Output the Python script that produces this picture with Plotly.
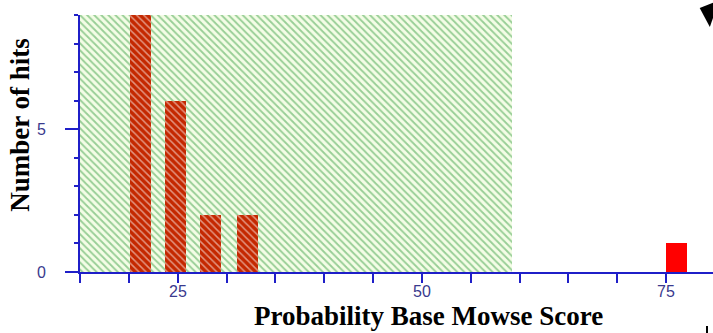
import plotly.graph_objects as go

# Histogram of peptide match scores
score_bins = [21.2, 24.8, 28.4, 32.1, 76.1]
hits = [9, 6, 2, 2, 1]
bar_width = 2.15

# x-axis labelled ticks
x_ticks = [25, 50, 75]
x_tick_text = ["25", "50", "75"]

# Scores below the significance threshold are shaded
threshold = 59.2
x_min, x_max = 15, 79.8
y_max = 9

axis_blue = "#1f1fc8"
label_blue = "#3a3a8e"
hatch_green = "#3ca046"

inside = [s < threshold for s in score_bins]
bar_colors = ["#c42800" if i else "#ff0000" for i in inside]
bar_hatch = ["\\" if i else "" for i in inside]

fig = go.Figure()

# shaded (hatched) low-score region
fig.add_trace(go.Bar(
    x=[(x_min + threshold) / 2], y=[y_max], width=[threshold - x_min],
    marker=dict(color="#f4fde6", line=dict(width=0),
                pattern=dict(shape="\\", fgcolor=hatch_green, bgcolor="#f4fde6",
                             size=5, solidity=0.38, fillmode="overlay")),
    hoverinfo="skip", showlegend=False,
))

# score histogram bars, hatched where they sit in the shaded region
fig.add_trace(go.Bar(
    x=score_bins, y=hits, width=[bar_width] * len(hits),
    marker=dict(color=bar_colors, line=dict(width=0),
                pattern=dict(shape=bar_hatch, fgcolor="#9a7a18",
                             bgcolor=bar_colors, size=5, solidity=0.3,
                             fillmode="overlay")),
    showlegend=False,
))

tick_font = dict(family="Liberation Sans", size=16, color=label_blue)

annotations = [
    dict(text=t, x=v, xref="x", y=-0.076, yref="paper", showarrow=False,
         font=tick_font, xanchor="center", yanchor="middle", borderpad=0)
    for v, t in zip(x_ticks, x_tick_text)
]
annotations += [
    dict(text="<b>Number of hits</b>", xref="paper", yref="paper",
         x=-0.095, y=0.572, textangle=-90, showarrow=False,
         font=dict(family="Liberation Serif", size=27, color="black"),
         xanchor="center", yanchor="middle", borderpad=0),
    dict(text="<b>Probability Base Mowse Score</b>", xref="paper", yref="paper",
         x=0.551, y=-0.172, showarrow=False,
         font=dict(family="Liberation Serif", size=27, color="black"),
         xanchor="center", yanchor="middle", borderpad=0),
]

fig.update_layout(
    width=713, height=333,
    margin=dict(l=80, r=0, t=15, b=61),
    barmode="overlay",
    bargap=0,
    plot_bgcolor="white", paper_bgcolor="white",
    xaxis=dict(
        range=[x_min, x_max], showgrid=False, zeroline=False,
        showline=True, linecolor=axis_blue, linewidth=2,
        tickmode="array", tickvals=x_ticks, showticklabels=False,
        ticks="outside", ticklen=9, tickwidth=2, tickcolor=axis_blue,
        minor=dict(tickvals=list(range(15, 80, 5)), ticks="outside",
                   ticklen=9, tickwidth=2, tickcolor=axis_blue),
    ),
    yaxis=dict(
        range=[0, y_max], showgrid=False, zeroline=False,
        showline=True, linecolor=axis_blue, linewidth=2,
        tickmode="array", tickvals=[0, 5], ticktext=["0", "5"],
        ticks="outside", ticklen=13, tickwidth=2, tickcolor=axis_blue,
        minor=dict(tickvals=list(range(0, 10)), ticks="outside",
                   ticklen=4, tickwidth=2, tickcolor=axis_blue),
        tickfont=tick_font,
        ticklabelstandoff=16,
    ),
    annotations=annotations,
    shapes=[
        # arrowhead at the top-right corner
        dict(type="path", xref="paper", yref="paper",
             path="M 0.979 1.027 L 1.01 1.058 L 0.995 0.953 Z",
             fillcolor="black", line=dict(width=0)),
        # small tick mark at the bottom-right corner
        dict(type="line", xref="paper", yref="paper",
             x0=0.9905, x1=0.9905, y0=-0.21, y1=-0.24,
             line=dict(color="black", width=2)),
    ],
)

fig.write_html("out.html")
